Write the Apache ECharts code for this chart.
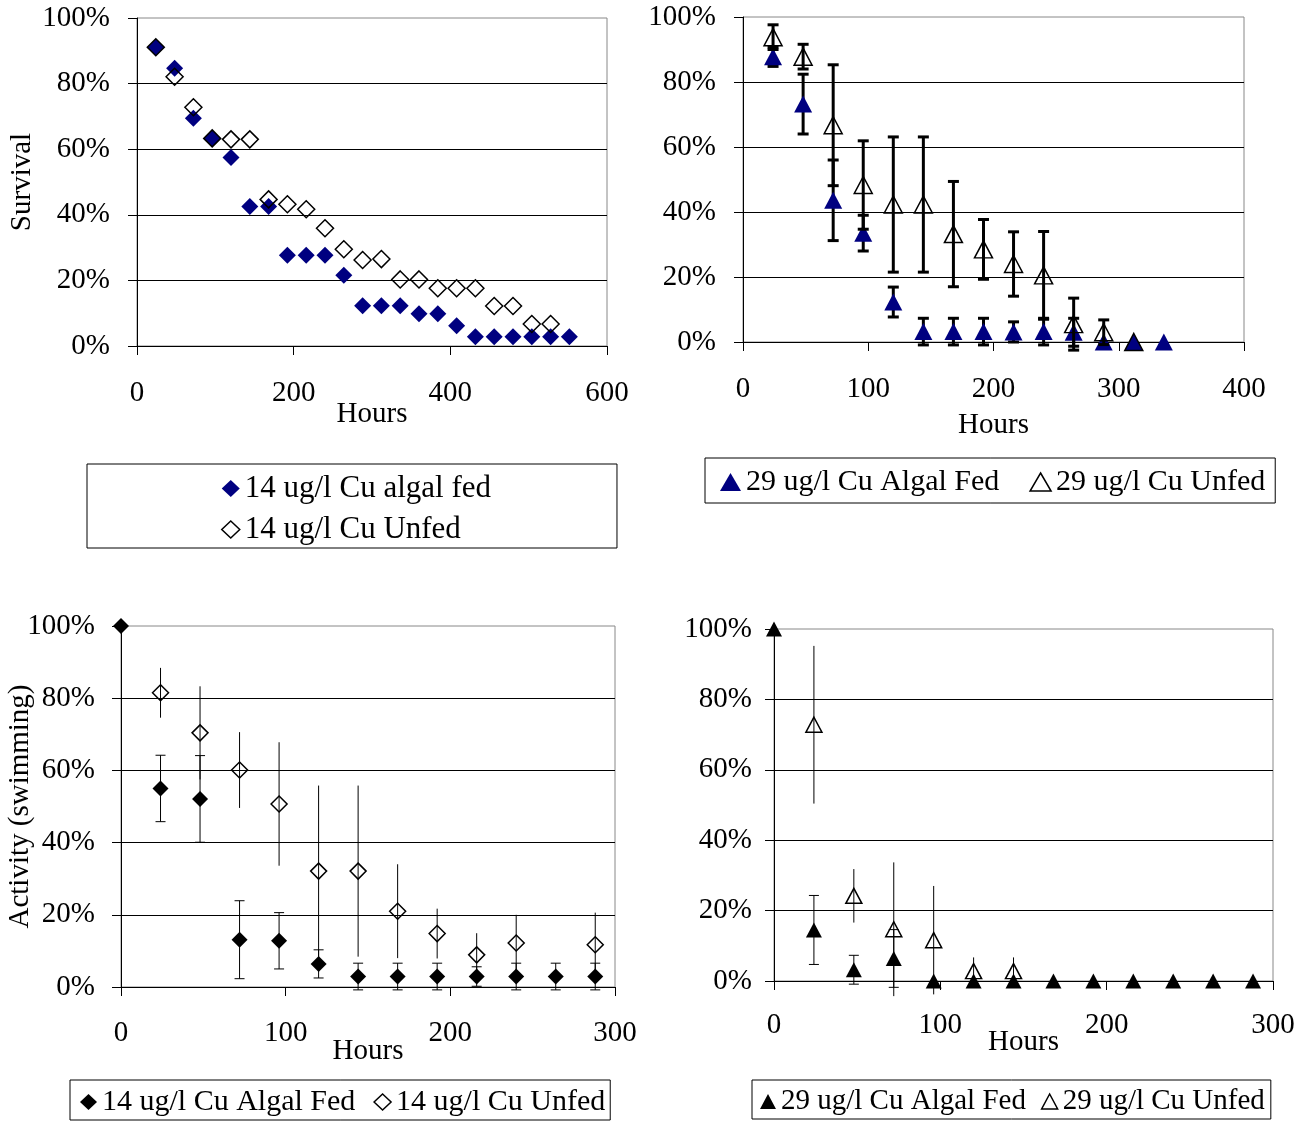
<!DOCTYPE html>
<html><head><meta charset="utf-8">
<script src="https://cdn.jsdelivr.net/npm/echarts@6/dist/echarts.min.js"></script>
<style>html,body{margin:0;padding:0;background:#fff}#c{width:1301px;height:1122px}</style>
</head><body><div id="c"></div>
<script>
const FONT = "'Liberation Serif','Times New Roman',Times,serif";
const NAVY = '#000080';

// ---- Panel 1: Survival, 14 ug/l Cu ----
const p1Names = ['14 ug/l Cu algal fed', '14 ug/l Cu Unfed'];
const p1FedHours = [24,48,72,96,120,144,168,192,216,240,264,288,312,336,360,384,408,432,456,480,504,528,552];
const p1FedVals  = [91.1,84.7,69.4,63.3,57.5,42.5,42.5,27.7,27.7,27.7,21.6,12.3,12.3,12.3,9.8,9.8,6.2,2.8,2.8,2.8,2.8,2.8,2.8];
const p1UnfedHours = [24,48,72,96,120,144,168,192,216,240,264,288,312,336,360,384,408,432,456,480,504,528];
const p1UnfedVals  = [91.1,82.1,72.8,63.3,63.0,63.0,44.7,43.2,41.7,35.9,29.5,26.2,26.5,20.3,20.3,17.6,17.6,17.6,12.2,12.2,6.7,6.7];

// ---- Panel 2: Survival, 29 ug/l Cu ----
const p2Names = ['29 ug/l Cu Algal Fed', '29 ug/l Cu Unfed'];
const p2FedHours = [24,48,72,96,120,144,168,192,216,240,264,288,312,336];
const p2FedVals  = [87.8,73.2,43.6,33.5,12.3,3.2,3.2,3.2,3.1,3.2,3.0,0,0,0];
const p2FedErr   = [3.0,9.2,12.4,5.5,4.6,4.1,4.1,4.1,3.1,4.1,4.3,0,0,0];
const p2UnfedHours = [24,48,72,96,120,144,168,192,216,240,264,288,312];
const p2UnfedVals  = [93.8,87.8,66.7,48.3,42.3,42.3,33.2,28.5,24.0,20.5,5.5,3.0,0];
const p2UnfedErr   = [3.8,3.8,18.6,13.6,20.8,20.8,16.2,9.2,9.9,13.5,8.0,3.8,0];

// ---- Panel 3: Activity, 14 ug/l Cu ----
const p3Names = ['14 ug/l Cu Algal Fed', '14 ug/l Cu Unfed'];
const p3FedHours = [0,24,48,72,96,120,144,168,192,216,240,264,288];
const p3FedVals  = [100,55.0,52.1,13.1,12.8,6.4,2.9,2.9,2.9,2.9,2.9,2.9,2.9];
const p3FedErr   = [0,9.2,12.0,10.8,7.8,3.9,3.7,3.7,3.7,2.7,3.7,3.7,3.7];
const p3UnfedHours = [24,48,72,96,120,144,168,192,216,240,288];
const p3UnfedVals  = [81.5,70.4,60.1,50.7,32.1,32.1,21.0,14.8,8.9,12.2,11.7];
const p3UnfedErr   = [6.9,12.9,10.5,17.1,23.7,23.7,13.0,6.9,6.0,7.8,8.9];

// ---- Panel 4: Activity, 29 ug/l Cu ----
const p4Names = ['29 ug/l Cu Algal Fed', '29 ug/l Cu Unfed'];
const p4FedHours = [0,24,48,72,96,120,144,168,192,216,240,264,288];
const p4FedVals  = [100,14.5,3.2,6.4,0,0,0,0,0,0,0,0,0];
const p4FedErr   = [0,9.8,4.1,8.2,0,0,0,0,0,0,0,0,0];
const p4UnfedHours = [24,48,72,96,120,144];
const p4UnfedVals  = [72.8,24.2,14.7,11.6,2.8,2.8];
const p4UnfedErr   = [22.4,7.6,19.0,15.4,3.9,3.9];

// axis ticks
const yTicks = {min: 0, max: 100, interval: 20};
const p1X = {min: 0, max: 600, interval: 200};
const p2X = {min: 0, max: 400, interval: 100};
const p3X = {min: 0, max: 300, interval: 100};
const p4X = {min: 0, max: 300, interval: 100};

const zip = (xs, ys) => xs.map((x, i) => [x, ys[i]]);
const errData = (xs, ys, es) => xs.map((x, i) => [x, ys[i] - es[i], ys[i] + es[i], es[i]]).filter(d => d[3] > 0);

function errRender(capW, lw) {
  return function (params, api) {
    const x = api.value(0), lo = api.value(1), hi = api.value(2);
    const a = api.coord([x, lo]), b = api.coord([x, hi]);
    const st = {stroke: '#000', lineWidth: lw};
    const ch = [{type: 'line', shape: {x1: a[0], y1: a[1], x2: b[0], y2: b[1]}, style: st}];
    if (capW > 0) {
      ch.push({type: 'line', shape: {x1: a[0] - capW / 2, y1: a[1], x2: a[0] + capW / 2, y2: a[1]}, style: st});
      ch.push({type: 'line', shape: {x1: b[0] - capW / 2, y1: b[1], x2: b[0] + capW / 2, y2: b[1]}, style: st});
    }
    return {type: 'group', children: ch};
  };
}

function errSeries(idx, data, capW, lw, z) {
  return {type: 'custom', name: 'err' + idx + '_' + z, xAxisIndex: idx, yAxisIndex: idx,
    data: data, encode: {x: 0, y: [1, 2]}, renderItem: errRender(capW, lw), z: z, silent: true, clip: false};
}
function ptSeries(idx, name, data, symbol, size, style, z) {
  return {type: 'scatter', name: name, xAxisIndex: idx, yAxisIndex: idx, data: data,
    symbol: symbol, symbolSize: size, itemStyle: Object.assign({opacity: 1}, style), z: z, clip: false, silent: true,
    emphasis: {disabled: true}};
}

const openStyle = {color: 'rgba(0,0,0,0)', borderColor: '#000', borderWidth: 1.5, opacity: 1};
const txt = (s) => ({fontFamily: FONT, fontSize: s, color: '#000'});

function xAxis(idx, ticks, margin, gap) {
  return Object.assign({type: 'value', gridIndex: idx, name: 'Hours', nameLocation: 'middle', nameGap: gap,
    nameMoveOverlap: false, nameTextStyle: txt(29),
    axisLine: {show: true, onZero: false, lineStyle: {color: '#000', width: 1}},
    axisTick: {show: true, inside: false, length: 9, lineStyle: {color: '#000'}},
    axisLabel: Object.assign({margin: margin}, txt(29)),
    splitLine: {show: false}}, ticks);
}
function yAxis(idx, margin, name, gap) {
  return Object.assign({type: 'value', gridIndex: idx, name: name || '', nameLocation: 'middle', nameGap: gap || 0,
    nameRotate: 90, nameMoveOverlap: false, nameTextStyle: txt(29),
    axisLine: {show: true, onZero: false, lineStyle: {color: '#000', width: 1}},
    axisTick: {show: true, inside: false, length: 9, lineStyle: {color: '#000'}},
    axisLabel: Object.assign({margin: margin, formatter: '{value}%'}, txt(29)),
    splitLine: {show: true, showMaxLine: false, showMinLine: false, lineStyle: {color: '#000', width: 1}}}, yTicks);
}

const legendBase = {borderColor: '#000', borderWidth: 1, selectedMode: false, backgroundColor: '#fff'};
const gridBase = {show: true, borderColor: '#888', borderWidth: 1, containLabel: false, outerBoundsMode: 'none'};

const option = {
  animation: false,
  backgroundColor: '#fff',
  grid: [
    Object.assign({left: 137, top: 18, width: 470, height: 328}, gridBase),
    Object.assign({left: 743, top: 17, width: 501, height: 325}, gridBase),
    Object.assign({left: 121, top: 626, width: 494, height: 361}, gridBase),
    Object.assign({left: 774, top: 629, width: 499, height: 352}, gridBase)
  ],
  xAxis: [xAxis(0, p1X, 33, 54), xAxis(1, p2X, 33, 69), xAxis(2, p3X, 32, 50), xAxis(3, p4X, 30, 47)],
  yAxis: [yAxis(0, 27, 'Survival', 100), yAxis(1, 27), yAxis(2, 26, 'Activity (swimming)', 86), yAxis(3, 22)],
  legend: [
    Object.assign({orient: 'vertical', left: 87, top: 464, padding: [9, 126, 3, 134], itemWidth: 18, itemHeight: 17, itemGap: 10,
      textStyle: txt(31),
      data: [{name: p1Names[0], icon: 'diamond', itemStyle: {color: NAVY, borderWidth: 0, opacity: 1}},
             {name: p1Names[1], icon: 'diamond', itemStyle: openStyle}]}, legendBase),
    Object.assign({orient: 'horizontal', left: 705, top: 458, padding: [9, 10, 6, 15], itemWidth: 21, itemHeight: 18, itemGap: 30,
      textStyle: txt(30),
      data: [{name: p2Names[0], icon: 'triangle', itemStyle: {color: NAVY, borderWidth: 0, opacity: 1}},
             {name: p2Names[1], icon: 'triangle', itemStyle: openStyle}]}, legendBase),
    Object.assign({orient: 'horizontal', left: 70, top: 1080, padding: [7, 5, 3, 10], itemWidth: 17, itemHeight: 16, itemGap: 18,
      textStyle: txt(30),
      data: [{name: p3Names[0], icon: 'diamond', itemStyle: {color: '#000', borderWidth: 0, opacity: 1}},
             {name: p3Names[1], icon: 'diamond', itemStyle: openStyle}]}, legendBase),
    Object.assign({orient: 'horizontal', left: 752, top: 1080, padding: [7, 6, 3, 8], itemWidth: 16, itemHeight: 15, itemGap: 15,
      textStyle: txt(29),
      data: [{name: p4Names[0], icon: 'triangle', itemStyle: {color: '#000', borderWidth: 0, opacity: 1}},
             {name: p4Names[1], icon: 'triangle', itemStyle: openStyle}]}, legendBase)
  ],
  series: [
    ptSeries(0, p1Names[0], zip(p1FedHours, p1FedVals), 'diamond', 17, {color: NAVY}, 2),
    ptSeries(0, p1Names[1], zip(p1UnfedHours, p1UnfedVals), 'diamond', 17, openStyle, 4),

    errSeries(1, errData(p2FedHours, p2FedVals, p2FedErr), 11, 3, 1),
    ptSeries(1, p2Names[0], zip(p2FedHours, p2FedVals), 'triangle', [18, 17], {color: NAVY}, 2),
    errSeries(1, errData(p2UnfedHours, p2UnfedVals, p2UnfedErr), 11, 3, 3),
    ptSeries(1, p2Names[1], zip(p2UnfedHours, p2UnfedVals), 'triangle', [18, 17], openStyle, 4),

    errSeries(2, errData(p3FedHours, p3FedVals, p3FedErr), 10, 1, 1),
    ptSeries(2, p3Names[0], zip(p3FedHours, p3FedVals), 'diamond', 16, {color: '#000'}, 2),
    errSeries(2, errData(p3UnfedHours, p3UnfedVals, p3UnfedErr), 0, 1, 3),
    ptSeries(2, p3Names[1], zip(p3UnfedHours, p3UnfedVals), 'diamond', 16, openStyle, 4),

    errSeries(3, errData(p4FedHours, p4FedVals, p4FedErr), 10, 1, 1),
    ptSeries(3, p4Names[0], zip(p4FedHours, p4FedVals), 'triangle', [16, 15], {color: '#000'}, 2),
    errSeries(3, errData(p4UnfedHours, p4UnfedVals, p4UnfedErr), 0, 1, 3),
    ptSeries(3, p4Names[1], zip(p4UnfedHours, p4UnfedVals), 'triangle', [16, 15], openStyle, 4)
  ]
};

const chart = echarts.init(document.getElementById('c'), null, {renderer: 'canvas'});
chart.setOption(option);
</script>
</body></html>
